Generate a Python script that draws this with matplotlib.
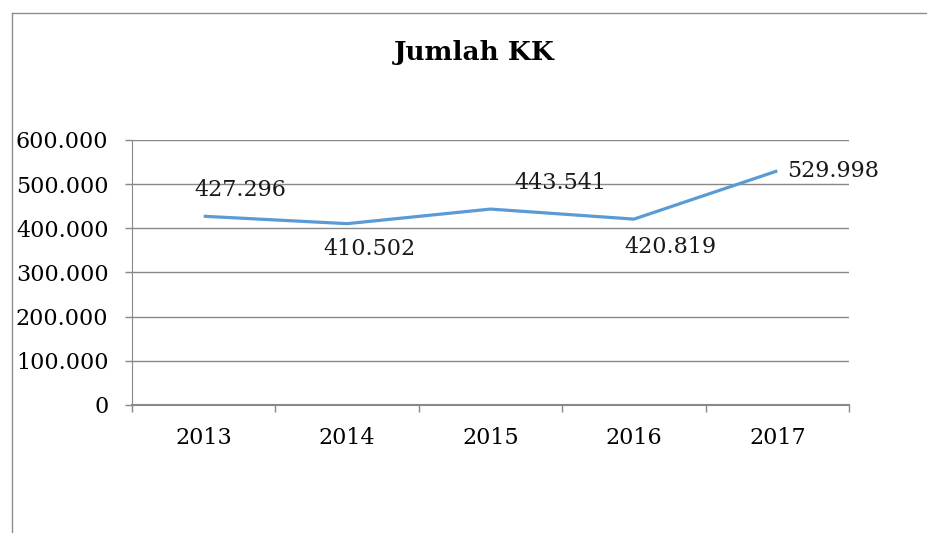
import matplotlib.pyplot as plt
from matplotlib.lines import Line2D
from matplotlib.ticker import FuncFormatter, FixedLocator

# data
years = ['2013', '2014', '2015', '2016', '2017']
jumlah_kk = [427296, 410502, 443541, 420819, 529998]
label_text = ['427.296', '410.502', '443.541', '420.819', '529.998']

# label offsets (points) relative to each data point, like the Excel placement
offsets = [(26, 19), (16, -18), (50, 19), (26, -20), (7, 0)]
aligns = ['center', 'center', 'center', 'center', 'left']

plt.rcParams['font.family'] = 'DejaVu Serif'
grid_col = '#898989'
fs = 16

fig = plt.figure(figsize=(9.27, 5.33), dpi=100)
ax = fig.add_axes([0.1424, 0.2402, 0.7735, 0.4972])

x = list(range(len(years)))
ax.plot(x, jumlah_kk, color='#5B9BD5', linewidth=2.3, solid_capstyle='butt', zorder=3)

for i, (v, t) in enumerate(zip(jumlah_kk, label_text)):
    ax.annotate(t, (i, v), xytext=offsets[i], textcoords='offset points',
                ha=aligns[i], va='center', fontsize=fs, color='#1a1a1a')

ax.set_xlim(-0.5, len(years) - 0.5)
ax.set_ylim(0, 600000)
ax.set_yticks(range(0, 600001, 100000))
ax.yaxis.set_major_formatter(FuncFormatter(lambda v, p: f'{int(v):,}'.replace(',', '.')))
ax.grid(axis='y', color=grid_col, linewidth=1)
ax.set_axisbelow(True)

ax.set_xticks(x)
ax.set_xticklabels(years)
ax.xaxis.set_minor_locator(FixedLocator([i - 0.5 for i in range(len(years) + 1)]))
ax.tick_params(axis='x', which='major', length=0, pad=16, labelsize=fs)
ax.tick_params(axis='x', which='minor', length=5, color=grid_col, width=1)
ax.tick_params(axis='y', length=5, color=grid_col, width=1, pad=12, labelsize=fs)

for s in ['top', 'right']:
    ax.spines[s].set_visible(False)
ax.spines['left'].set_color(grid_col)
ax.spines['bottom'].set_color(grid_col)
ax.spines['bottom'].set_linewidth(1.5)

fig.text(0.512, 0.902, 'Jumlah KK', ha='center', va='center', fontsize=19, fontweight='bold')

# outer chart border (cut off on right and bottom)
bx, by = 12 / 927, 1 - 13 / 533
fig.add_artist(Line2D([bx, bx], [0, by], color='#8c8c8c', linewidth=1))
fig.add_artist(Line2D([bx, 1], [by, by], color='#8c8c8c', linewidth=1))

fig.savefig('out.png', dpi=100)
